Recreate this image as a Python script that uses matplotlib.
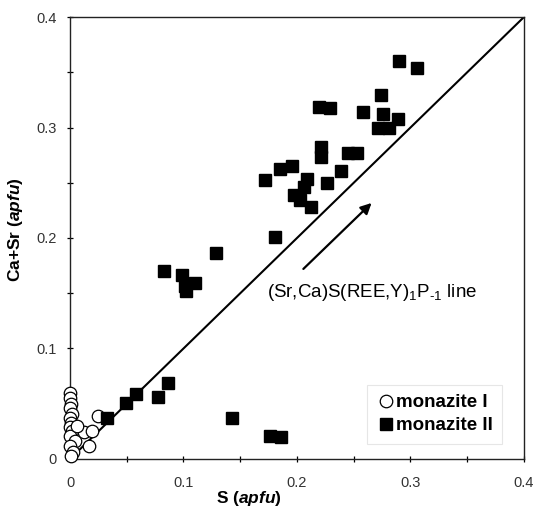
import matplotlib
matplotlib.use("Agg")
import matplotlib.pyplot as plt

plt.rcParams["font.family"] = ["Liberation Sans", "DejaVu Sans"]
plt.rcParams["mathtext.fontset"] = "custom"
plt.rcParams["mathtext.rm"] = "Liberation Sans"
plt.rcParams["mathtext.it"] = "Liberation Sans:italic"
plt.rcParams["mathtext.bfit"] = "Liberation Sans:italic:bold"

# monazite I (open circles)
mzI_s = [0.000, 0.000, 0.001, 0.000, 0.002, 0.000, 0.001, 0.000, 0.002, 0.000,
         0.004, 0.000, 0.003, 0.012, 0.019, 0.017, 0.025, 0.001, 0.006]
mzI_casr = [0.060, 0.055, 0.050, 0.046, 0.041, 0.037, 0.033, 0.029, 0.025, 0.021,
            0.016, 0.012, 0.006, 0.024, 0.025, 0.012, 0.039, 0.003, 0.030]

# monazite II (filled squares)
mzII_s = [0.2895, 0.306, 0.274, 0.219, 0.229, 0.258, 0.276, 0.289, 0.271, 0.281,
          0.221, 0.221, 0.245, 0.253, 0.239, 0.226, 0.185, 0.196, 0.172, 0.209,
          0.2065, 0.197, 0.203, 0.2125, 0.181, 0.129, 0.083, 0.099, 0.1015, 0.110,
          0.102, 0.0865, 0.0777, 0.058, 0.0495, 0.0327, 0.143, 0.1765, 0.186]
mzII_casr = [0.360, 0.354, 0.329, 0.319, 0.318, 0.314, 0.312, 0.308, 0.300, 0.300,
             0.282, 0.273, 0.277, 0.277, 0.261, 0.250, 0.262, 0.265, 0.2525, 0.253,
             0.246, 0.239, 0.234, 0.228, 0.201, 0.186, 0.170, 0.1665, 0.157, 0.159,
             0.152, 0.069, 0.056, 0.059, 0.0507, 0.037, 0.037, 0.021, 0.020]

major_ticks = [0.0, 0.1, 0.2, 0.3, 0.4]
minor_ticks = [0.05, 0.15, 0.25, 0.35]
tick_labels = ["0", "0.1", "0.2", "0.3", "0.4"]

line_x = [0.0, 0.4]
arrow_tail = (0.2056, 0.172)
arrow_head = (0.2657, 0.2317)

fig = plt.figure(figsize=(5.36, 5.08), dpi=100)
ax = fig.add_axes([0.1306, 0.0965, 0.8470, 0.870])

ax.plot(line_x, line_x, color="black", lw=1.5, zorder=2)

ax.plot(mzI_s, mzI_casr, "o", ms=9, mfc="white", mec="black", mew=0.9,
        linestyle="none", label="monazite I", clip_on=False, zorder=3)
ax.plot(mzII_s, mzII_casr, "s", ms=9, mfc="black", mec="black",
        linestyle="none", label="monazite II", zorder=4)

ax.annotate("", xy=arrow_head, xytext=arrow_tail,
            arrowprops=dict(arrowstyle="-|>", color="black", lw=1.6,
                            mutation_scale=16, shrinkA=0, shrinkB=0))
ax.text(0.174, 0.151, r"(Sr,Ca)S(REE,Y)$_1$P$_{\text{-1}}$ line", fontsize=13.5,
        ha="left", va="center")

ax.set_xlim(0, 0.4)
ax.set_ylim(0, 0.4)
ax.set_xticks(major_ticks, tick_labels)
ax.set_yticks(major_ticks, tick_labels)
ax.set_xticks(minor_ticks, minor=True)
ax.set_yticks(minor_ticks, minor=True)
ax.tick_params(which="both", direction="inout", length=5, width=0.9,
               labelsize=10.5, labelcolor="#333333", top=False, right=False)
ax.tick_params(axis="x", pad=10)
ax.tick_params(axis="y", pad=7)
for sp in ax.spines.values():
    sp.set_linewidth(1.0)
    sp.set_color("#222222")

ax.set_xlabel(r"S ($\mathbfit{apfu}$)", fontsize=12.5, fontweight="bold")
ax.set_ylabel(r"Ca+Sr ($\mathbfit{apfu}$)", fontsize=12.5, fontweight="bold")
ax.xaxis.set_label_coords(0.394, -0.068)
ax.yaxis.set_label_coords(-0.10, 0.52)

leg = ax.legend(loc="lower right", bbox_to_anchor=(0.952, 0.035), frameon=True,
                fancybox=False, edgecolor="#e0e0e0", handletextpad=0.05,
                handlelength=1.0, borderpad=0.5, borderaxespad=0,
                labelspacing=0.3, prop={"weight": "bold", "size": 13.5})
leg.get_frame().set_linewidth(0.8)

fig.savefig("out.png", dpi=100)
